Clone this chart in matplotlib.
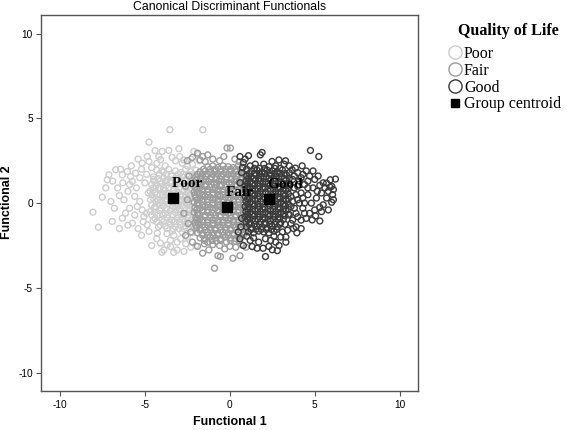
import matplotlib
matplotlib.use('Agg')
import matplotlib.pyplot as plt
from matplotlib.lines import Line2D

plt.rcParams['axes.unicode_minus'] = False

# canonical scores (function 1, function 2)
poor_pts = [
    (-8.06, -0.53), (-7.74, -1.42), (-7.51, 0.35), (-7.12, 1.67), (-7.21, 1.38), (-6.72, 1.97),
    (-6.43, 2.0), (-6.33, 1.67), (-6.04, 1.87), (-5.84, 1.57), (-5.74, 1.28), (-5.55, 1.77),
    (-6.92, -1.08), (-6.23, 0.2), (-6.14, -0.59), (-6.33, -0.89), (-5.74, -1.18), (-5.45, -0.2),
    (-5.16, -0.4), (-5.06, -0.79), (-4.67, 0.2), (-4.86, -1.28), (-4.76, -1.67), (-4.27, -1.77),
    (-4.08, -2.36), (-3.69, -2.46), (-3.88, -2.76), (-3.49, -2.56), (-3.1, -2.76), (-4.76, 3.6),
    (-3.53, 4.33), (-1.59, 4.33), (-3.98, 3.05), (-3.59, 3.11), (-3.0, 3.21), (-4.86, 2.75),
    (-4.76, 2.46), (-5.16, 2.36), (-4.18, 2.75), (-4.08, 2.56), (-2.71, 2.56), (-2.8, 2.36),
    (-2.12, 3.05), (-1.92, 2.89),
    (-6.6, 0.9), (-6.5, 0.45), (-6.0, 0.7), (-5.9, 1.1), (-5.6, 0.4), (-5.5, 0.9), (-5.3, 1.5),
    (-5.2, 2.0), (-5.0, 1.2), (-5.3, 0.1), (-5.9, -0.3), (-5.6, -0.7), (-6.0, -1.3), (-5.4, -1.5),
    (-5.1, -1.1), (-4.9, -0.6), (-4.8, 0.6), (-4.9, 1.7), (-4.6, 2.1), (-4.5, 1.4), (-4.4, -0.2),
    (-4.5, -1.0), (-4.3, -2.1), (-4.2, -1.4), (-4.1, 0.9), (-4.0, 1.9), (-3.8, 2.2), (-3.7, -1.8),
    (-3.5, -2.2), (-3.3, -1.9), (-3.1, -2.3), (-2.9, -2.1), (-2.6, -2.4), (-2.5, -2.0), (-2.3, 2.6),
    (-2.5, 2.2), (-3.2, 2.5), (-3.4, 2.7), (-2.95, 2.75), (-2.2, 2.3), (-1.8, 2.5), (-7.0, 0.1),
    (-6.8, -0.3), (-7.3, 0.9), (-6.9, 1.3), (-6.3, 1.2), (-5.8, 2.2), (-5.4, 2.6), (-4.4, 3.1),
    (-4.3, 2.35), (-6.5, -1.5), (-5.2, -1.9), (-4.6, -2.5), (-4.0, -2.9), (-3.3, -2.9), (-2.7, -2.85),
    (-2.3, -2.6), (-2.0, -2.5),
    (-4.3, 1.95), (-3.9, 1.85), (-3.6, 2.0), (-3.2, 1.9), (-2.9, 1.8), (-2.6, 2.0), (-2.3, 1.85),
    (-2.0, 1.95), (-4.5, 1.55), (-4.2, 1.45), (-3.9, 1.5), (-3.7, 1.35), (-3.4, 1.6), (-3.1, 1.45),
    (-2.8, 1.55), (-2.5, 1.4), (-2.2, 1.6), (-1.9, 1.45), (-4.6, 1.1), (-4.35, 1.0), (-4.0, 1.15),
    (-3.75, 1.05), (-3.5, 1.2), (-3.2, 1.0), (-2.95, 1.15), (-2.7, 1.05), (-2.4, 1.15), (-2.1, 1.0),
    (-1.85, 1.1), (-4.7, 0.7), (-4.4, 0.65), (-4.1, 0.5), (-3.85, 0.75), (-3.6, 0.6), (-3.3, 0.75),
    (-3.0, 0.65), (-2.75, 0.7), (-2.5, 0.6), (-2.2, 0.75), (-1.95, 0.65), (-4.5, 0.3), (-4.25, 0.2),
    (-3.95, 0.35), (-3.7, 0.25), (-3.1, 0.3), (-2.85, 0.2), (-2.6, 0.35), (-2.3, 0.25), (-2.05, 0.3),
    (-4.6, -0.1), (-4.2, -0.05), (-3.9, -0.15), (-3.6, -0.05), (-3.35, -0.2), (-3.05, -0.1),
    (-2.8, -0.15), (-2.5, -0.05), (-2.25, -0.2), (-1.95, -0.1), (-4.7, -0.5), (-4.4, -0.55),
    (-4.1, -0.45), (-3.8, -0.6), (-3.5, -0.45), (-3.2, -0.55), (-2.9, -0.5), (-2.6, -0.6),
    (-2.35, -0.45), (-2.05, -0.55), (-4.4, -0.9), (-4.0, -0.95), (-3.7, -0.85), (-3.4, -1.0),
    (-3.1, -0.9), (-2.8, -0.95), (-2.5, -0.85), (-2.2, -1.0), (-1.9, -0.9), (-4.1, -1.3),
    (-3.8, -1.35), (-3.5, -1.25), (-3.2, -1.4), (-2.9, -1.3), (-2.6, -1.35), (-2.3, -1.25),
    (-2.0, -1.4), (-3.4, -1.65), (-2.8, -1.7), (-2.2, -1.75),
]
# denser middle of the Poor cloud, one row per function-2 level
poor_rows = [
    (1.7, [-4.15, -3.75, -3.45, -3.05, -2.75, -2.45, -2.15, -1.85]),
    (1.3, [-4.45, -4.1, -3.8, -3.5, -3.2, -2.9, -2.6, -2.3, -2.0]),
    (0.9, [-4.5, -4.2, -3.9, -3.6, -3.3, -3.0, -2.6, -2.3, -2.0]),
    (0.5, [-4.6, -4.3, -3.95, -3.7, -3.45, -3.15, -2.9, -2.6, -2.35, -2.05]),
    (0.1, [-4.35, -4.05, -3.8, -2.95, -2.7, -2.45, -2.15]),
    (-0.3, [-4.45, -4.05, -3.75, -3.45, -3.2, -2.95, -2.65, -2.4, -2.1]),
    (-0.7, [-4.6, -4.25, -3.95, -3.65, -3.35, -3.05, -2.75, -2.45, -2.15]),
    (-1.1, [-4.3, -3.9, -3.55, -3.25, -2.95, -2.65, -2.35, -2.05]),
    (-1.5, [-3.7, -3.35, -3.0, -2.7, -2.4, -2.1]),
]

fair_pts = [
    (-0.16, 3.25), (0.04, 3.25), (-1.9, 2.95), (-1.6, 2.75), (-1.3, 2.85), (-1.0, 2.6), (-0.6, 2.5),
    (-0.35, 2.75), (0.3, 2.6), (0.55, 2.45), (-1.45, 2.45), (-2.2, 2.7), (-2.5, 2.5), (-1.75, 2.55),
    (-2.4, 1.6), (-2.6, 1.0), (-2.5, 0.2), (-2.7, -0.6), (-2.45, -1.2), (-2.3, -1.7), (-2.6, -1.9),
    (-2.2, -2.3), (-0.9, -3.84), (0.18, -3.25), (0.6, -3.1), (-0.7, -3.1), (-0.55, -3.15),
    (-1.6, -2.95), (-1.23, -2.76), (-1.9, -2.55), (-0.3, -2.7), (0.0, -2.55), (0.35, -2.6),
    (-1.5, -2.4), (-1.0, -2.45), (-0.6, -2.5), (0.7, -2.45), (0.95, -2.6),
    (-1.3, 2.15), (-1.0, 2.2), (-0.7, 2.1), (-0.4, 2.2), (-0.1, 2.15), (0.2, 2.1), (0.5, 2.2),
    (0.8, 2.1), (-1.75, 1.85), (-1.45, 1.9), (-1.15, 1.8), (-0.85, 1.9), (-0.55, 1.85), (-0.25, 1.8),
    (0.05, 1.9), (0.35, 1.85), (0.65, 1.8), (0.95, 1.9), (-2.0, 1.55), (-1.7, 1.5), (-1.4, 1.6),
    (-1.1, 1.55), (-0.8, 1.5), (-0.5, 1.6), (-0.2, 1.55), (0.1, 1.5), (0.4, 1.6), (0.7, 1.55),
    (1.0, 1.5), (-2.1, 1.25), (-1.85, 1.2), (-1.55, 1.3), (-1.25, 1.25), (-0.95, 1.2), (-0.65, 1.3),
    (-0.35, 1.25), (-0.05, 1.2), (0.25, 1.3), (0.55, 1.25), (0.85, 1.2), (-2.05, 0.95), (-1.75, 0.9),
    (-1.45, 1.0), (-1.15, 0.95), (-0.85, 0.9), (-0.55, 1.0), (-0.25, 0.95), (0.05, 0.9), (0.35, 1.0),
    (0.65, 0.95), (0.95, 0.9), (-2.1, 0.65), (-1.9, 0.6), (-1.6, 0.7), (-1.3, 0.65), (-1.0, 0.6),
    (-0.7, 0.7), (-0.4, 0.65), (-0.1, 0.6), (0.2, 0.7), (0.5, 0.65), (0.8, 0.6), (1.05, 0.7),
    (-2.0, 0.35), (-1.75, 0.3), (-1.45, 0.4), (-1.15, 0.35), (-0.85, 0.3), (-0.55, 0.4), (-0.25, 0.35),
    (0.05, 0.3), (0.35, 0.4), (0.65, 0.35), (0.95, 0.3), (-2.1, 0.05), (-1.9, 0.0), (-1.6, 0.1),
    (-1.3, 0.05), (-1.0, 0.0), (-0.7, 0.1), (-0.4, 0.05), (-0.1, 0.0), (0.2, 0.1), (0.5, 0.05),
    (0.8, 0.0), (1.05, 0.1), (-2.05, -0.25), (-1.75, -0.3), (-1.45, -0.2), (-1.15, -0.25),
    (-0.85, -0.3), (-0.55, -0.2), (-0.25, -0.25), (0.05, -0.3), (0.35, -0.2), (0.65, -0.25),
    (0.95, -0.3), (-2.1, -0.55), (-1.9, -0.6), (-1.6, -0.5), (-1.3, -0.55), (-1.0, -0.6), (-0.7, -0.5),
    (-0.4, -0.55), (-0.1, -0.6), (0.2, -0.5), (0.5, -0.55), (0.8, -0.6), (1.05, -0.5), (-2.0, -0.85),
    (-1.75, -0.9), (-1.45, -0.8), (-1.15, -0.85), (-0.85, -0.9), (-0.55, -0.8), (-0.25, -0.85),
    (0.05, -0.9), (0.35, -0.8), (0.65, -0.85), (0.95, -0.9), (-2.05, -1.15), (-1.85, -1.2),
    (-1.6, -1.1), (-1.3, -1.15), (-1.0, -1.2), (-0.7, -1.1), (-0.4, -1.15), (-0.1, -1.2), (0.2, -1.1),
    (0.5, -1.15), (0.8, -1.2), (1.0, -1.1), (-1.95, -1.45), (-1.75, -1.5), (-1.45, -1.4),
    (-1.15, -1.45), (-0.85, -1.5), (-0.55, -1.4), (-0.25, -1.45), (0.05, -1.5), (0.35, -1.4),
    (0.65, -1.45), (0.95, -1.5), (-1.9, -1.75), (-1.6, -1.8), (-1.3, -1.7), (-1.0, -1.75),
    (-0.7, -1.8), (-0.4, -1.7), (-0.1, -1.75), (0.2, -1.8), (0.5, -1.7), (0.8, -1.75), (-1.75, -2.05),
    (-1.45, -2.1), (-1.15, -2.0), (-0.85, -2.05), (-0.55, -2.1), (-0.25, -2.0), (0.05, -2.05),
    (0.35, -2.1), (0.65, -2.0), (-1.3, -2.3), (-0.8, -2.25), (-0.2, -2.3), (0.3, -2.25),
]
fair_rows = [
    (2.0, [-1.55, -1.15, -0.85, -0.55, -0.25, 0.05, 0.35, 0.65]),
    (1.7, [-1.9, -1.6, -1.3, -1.0, -0.7, -0.4, -0.1, 0.2, 0.5, 0.8]),
    (1.4, [-1.95, -1.7, -1.4, -1.1, -0.8, -0.5, -0.2, 0.1, 0.4, 0.7, 0.95]),
    (1.1, [-2.0, -1.7, -1.4, -1.1, -0.8, -0.5, -0.2, 0.1, 0.4, 0.7, 1.0]),
    (0.8, [-1.95, -1.6, -1.3, -1.0, -0.7, -0.4, -0.1, 0.2, 0.5, 0.8]),
    (0.5, [-2.05, -1.6, -1.3, -1.0, -0.7, -0.4, -0.1, 0.2, 0.5, 0.8, 1.0]),
    (0.2, [-1.9, -1.6, -1.3, -1.0, -0.7, -0.4, -0.1, 0.2, 0.5, 0.8]),
    (-0.1, [-1.9, -1.6, -1.3, -1.0, -0.7, -0.4, 0.2, 0.5, 0.8, 1.0]),
    (-0.4, [-1.95, -1.6, -1.3, -1.0, -0.7, -0.4, -0.1, 0.2, 0.5, 0.8]),
    (-0.7, [-1.9, -1.45, -1.15, -0.85, -0.55, -0.25, 0.05, 0.35, 0.65, 0.95]),
    (-1.0, [-1.95, -1.6, -1.3, -1.0, -0.7, -0.4, -0.1, 0.2, 0.5, 0.8]),
    (-1.3, [-2.0, -1.6, -1.3, -1.0, -0.7, -0.4, -0.1, 0.2, 0.5, 0.8, 1.0]),
    (-1.6, [-1.75, -1.45, -1.15, -0.85, -0.55, -0.25, 0.05, 0.35, 0.65, 0.95]),
    (-1.9, [-1.6, -1.3, -1.0, -0.7, -0.4, -0.1, 0.2, 0.5, 0.8]),
    (-2.2, [-1.5, -1.05, -0.55, 0.05, 0.55]),
]

good_pts = [
    (1.3, 1.9), (1.6, 1.95), (1.9, 1.85), (2.2, 1.95), (2.5, 1.9), (2.8, 1.85), (3.1, 1.95),
    (1.0, 1.6), (1.25, 1.55), (1.55, 1.65), (1.85, 1.6), (2.15, 1.55), (2.45, 1.65), (2.75, 1.6),
    (3.05, 1.55), (3.35, 1.65), (0.95, 1.3), (1.2, 1.25), (1.5, 1.35), (1.8, 1.3), (2.1, 1.25),
    (2.4, 1.35), (2.7, 1.3), (3.0, 1.25), (3.3, 1.35), (0.9, 1.0), (1.15, 0.95), (1.45, 1.05),
    (1.75, 1.0), (2.05, 0.95), (2.35, 1.05), (2.65, 1.0), (2.95, 0.95), (3.25, 1.05), (0.95, 0.7),
    (1.2, 0.65), (1.5, 0.75), (1.8, 0.7), (2.1, 0.65), (2.4, 0.75), (2.7, 0.7), (3.0, 0.65),
    (3.3, 0.75), (0.9, 0.4), (1.15, 0.35), (1.45, 0.45), (1.75, 0.4), (2.05, 0.35), (2.65, 0.4),
    (2.95, 0.35), (3.25, 0.45), (0.95, 0.1), (1.2, 0.05), (1.5, 0.15), (1.8, 0.1), (2.7, 0.1),
    (3.0, 0.05), (3.3, 0.15), (0.9, -0.2), (1.15, -0.25), (1.45, -0.15), (1.75, -0.2), (2.05, -0.25),
    (2.35, -0.15), (2.65, -0.2), (2.95, -0.25), (3.25, -0.15), (0.95, -0.5), (1.2, -0.55),
    (1.5, -0.45), (1.8, -0.5), (2.1, -0.55), (2.4, -0.45), (2.7, -0.5), (3.0, -0.55), (3.3, -0.45),
    (0.9, -0.8), (1.15, -0.85), (1.45, -0.75), (1.75, -0.8), (2.05, -0.85), (2.35, -0.75),
    (2.65, -0.8), (2.95, -0.85), (3.25, -0.75), (0.95, -1.1), (1.2, -1.15), (1.5, -1.05), (1.8, -1.1),
    (2.1, -1.15), (2.4, -1.05), (2.7, -1.1), (3.0, -1.15), (1.0, -1.4), (1.3, -1.45), (1.6, -1.35),
    (1.9, -1.4), (2.2, -1.45), (2.5, -1.35), (2.8, -1.4), (1.1, -1.7), (1.4, -1.75), (1.7, -1.65),
    (2.0, -1.7), (2.3, -1.75), (2.6, -1.65),
    (1.9, 2.99), (1.8, 2.85), (2.49, 2.46), (2.89, 2.55), (3.28, 2.5), (3.67, 1.97), (3.86, 2.07),
    (4.26, 2.2), (4.75, 3.11), (5.24, 2.75), (1.5, 2.3), (2.0, 2.3), (2.3, 2.15), (2.7, 2.2),
    (3.5, 2.2), (3.2, 2.3), (4.0, 1.8), (4.3, 1.7), (1.2, 2.2), (0.8, 2.4), (0.6, 2.75), (0.9, 2.6),
    (1.1, 2.8), (5.92, 1.38), (6.22, 1.42), (5.7, 1.18), (6.0, 1.0), (6.1, 0.8), (6.05, 0.5),
    (6.1, 0.2), (6.0, 0.05), (5.5, 1.2), (5.6, 0.9), (5.3, 1.05), (5.4, 0.6), (5.7, 0.3), (5.5, -0.1),
    (5.8, -0.4), (5.4, -0.5), (5.0, 1.4), (4.7, 1.6), (4.9, 0.9), (5.1, 0.3), (4.8, 0.0), (4.6, 0.5),
    (4.4, 1.1), (4.2, 0.6), (4.0, 0.2), (4.3, -0.3), (4.7, -0.6), (5.0, -0.4), (4.5, -0.9),
    (4.85, -0.99), (5.3, -1.05), (4.2, -1.0), (3.9, -0.6), (3.8, 0.9), (3.7, 1.4), (3.6, 0.4),
    (3.6, -0.2), (4.1, 1.3), (3.5, 1.8), (3.9, -1.4), (3.6, -1.2), (3.4, -1.6), (3.95, -1.75),
    (3.7, -1.0), (3.5, -0.7), (3.5, 1.0), (4.5, 1.9), (4.9, 1.9), (5.2, 1.6), (5.8, 0.7), (4.4, 0.0),
    (2.1, -3.15), (1.61, -2.66), (1.96, -2.66), (2.1, -2.1), (1.32, -2.56), (2.7, -2.3), (2.6, -1.95),
    (3.0, -2.0), (3.1, -1.7), (2.4, -2.2), (1.7, -2.3), (1.2, -2.2), (0.8, -2.5), (0.6, -2.1),
    (1.0, -1.95), (2.9, -2.5), (3.3, -2.0), (1.4, -2.05), (2.3, -2.55), (0.5, -1.7),
    (0.7, 1.8), (0.6, 1.2), (0.7, -0.9), (0.65, -1.4), (0.75, 2.1), (1.0, 2.0),
    (3.8, 1.6), (4.0, 1.0), (4.2, 1.5), (3.9, 0.5), (4.1, 0.0), (3.8, -0.3), (4.0, -0.8), (4.4, -0.6),
    (4.6, 0.9), (4.3, 0.3), (3.7, 0.1), (3.75, -1.5), (4.2, -1.5), (3.3, -2.3), (2.8, -2.8),
    (2.5, -2.75), (4.6, 1.3), (5.15, 0.7), (5.3, -0.25), (5.05, -0.75), (5.9, 0.95),
]
good_rows = [
    (2.05, [1.45, 1.75, 2.05, 2.65, 2.95]),
    (1.75, [1.15, 1.45, 1.75, 2.05, 2.35, 2.65, 2.95, 3.25]),
    (1.45, [1.1, 1.4, 1.7, 2.0, 2.3, 2.6, 2.9, 3.2, 3.5]),
    (1.15, [1.05, 1.35, 1.65, 1.95, 2.25, 2.55, 2.85, 3.15, 3.45]),
    (0.85, [1.05, 1.35, 1.65, 1.95, 2.25, 2.55, 2.85, 3.15, 3.45]),
    (0.55, [1.05, 1.35, 1.65, 1.95, 2.55, 2.85, 3.15, 3.45]),
    (0.25, [1.05, 1.35, 1.65, 2.85, 3.15, 3.45]),
    (-0.05, [1.05, 1.35, 1.65, 1.95, 2.55, 2.85, 3.15, 3.45]),
    (-0.35, [1.05, 1.35, 1.65, 1.95, 2.25, 2.55, 2.85, 3.15, 3.45]),
    (-0.65, [1.05, 1.35, 1.65, 1.95, 2.25, 2.55, 2.85, 3.15, 3.45]),
    (-0.95, [1.05, 1.35, 1.65, 1.95, 2.25, 2.55, 2.85, 3.15]),
    (-1.25, [1.15, 1.45, 1.75, 2.05, 2.35, 2.65, 2.95, 3.25]),
    (-1.55, [1.25, 1.55, 1.85, 2.15, 2.45, 2.75]),
]

group_names = ['Poor', 'Fair', 'Good']
centroid_x = [-3.33, -0.15, 2.29]
centroid_y = [0.30, -0.24, 0.24]

group_colors = ['#cdcdcd', '#9b9b9b', '#3a3a3a']
group_pts = [poor_pts, fair_pts, good_pts]
group_rows = [poor_rows, fair_rows, good_rows]

serif = 'Liberation Serif'
sans = 'Liberation Sans'

fig = plt.figure(figsize=(5.67, 4.30), dpi=100)
ax = fig.add_axes([41.3 / 567, 1 - 391.3 / 430, 377 / 567, 376.3 / 430])

for pts, rows, col in zip(group_pts, group_rows, group_colors):
    xs = [p[0] for p in pts]
    ys = [p[1] for p in pts]
    for yv, row in rows:
        xs += row
        ys += [yv] * len(row)
    ax.scatter(xs, ys, s=18, facecolors='none', edgecolors=col, linewidths=1.0)

ax.scatter(centroid_x, centroid_y, marker='s', s=46, color='black', zorder=5)
for name, cx, cy in zip(group_names, centroid_x, centroid_y):
    ax.annotate(name, xy=(cx, cy), xytext=(-1, 8), textcoords='offset points',
                ha='left', va='baseline', fontfamily=serif, fontweight='bold', fontsize=11,
                zorder=6,
                arrowprops=dict(arrowstyle='-', lw=0.7, color='black', shrinkA=0, shrinkB=3))

ax.set_xlim(-11.1, 11.1)
ax.set_ylim(-11.1, 11.1)
ax.set_xticks([-10, -5, 0, 5, 10])
ax.set_yticks([-10, -5, 0, 5, 10])
ax.tick_params(direction='out', length=3.5, width=0.8, color='#555555',
               labelsize=7.3, pad=2.5)
for lab in ax.get_xticklabels() + ax.get_yticklabels():
    lab.set_fontfamily(sans)
for s in ax.spines.values():
    s.set_color('#555555')
    s.set_linewidth(1.0)

fig.text(229.8 / 567, 1 - 7 / 430, 'Canonical Discriminant Functionals', ha='center', va='center',
         fontfamily=sans, fontsize=8.8)
fig.text(229.8 / 567, 1 - 422 / 430, 'Functional 1', ha='center', va='center',
         fontfamily=sans, fontweight='bold', fontsize=9)
fig.text(7.5 / 567, 1 - 202 / 430, 'Functional 2', ha='center', va='center', rotation=90,
         fontfamily=sans, fontweight='bold', fontsize=9)

# legend title drawn on its own so the gap below it matches
fig.text(508 / 567, 1 - 31 / 430, 'Quality of Life', ha='center', va='center',
         fontfamily=serif, fontweight='bold', fontsize=11.5)
handles = [Line2D([], [], marker='o', linestyle='none', markersize=9.5, markerfacecolor='none',
                  markeredgecolor=c, markeredgewidth=1.0) for c in group_colors]
handles.append(Line2D([], [], marker='s', linestyle='none', markersize=6, color='black'))
leg = fig.legend(handles, group_names + ['Group centroid'], loc='upper left',
                 bbox_to_anchor=(448 / 567, 1 - 46 / 430), frameon=False,
                 prop={'family': serif, 'size': 11.5},
                 handlelength=0.9, handletextpad=0.1, labelspacing=0.05,
                 borderpad=0, borderaxespad=0)

fig.savefig('out.png', dpi=100)
